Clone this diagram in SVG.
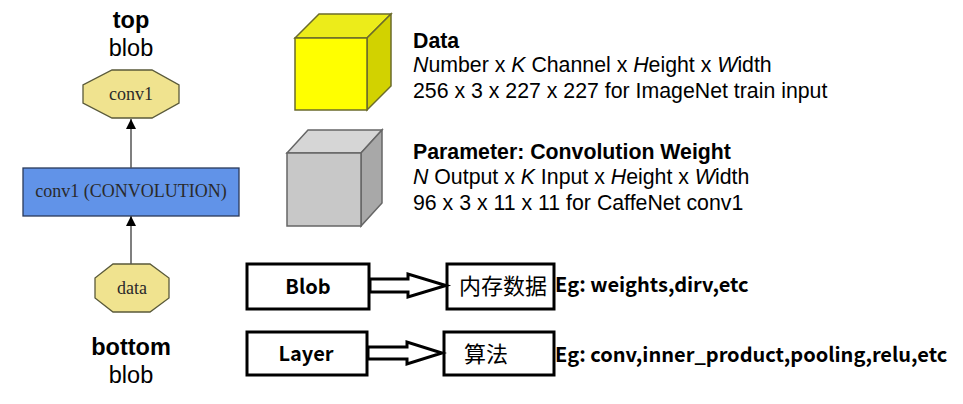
<svg xmlns="http://www.w3.org/2000/svg" width="963" height="404" viewBox="0 0 963 404">
<defs>
<marker id="ah" viewBox="0 0 10 10" refX="10" refY="5" markerWidth="10" markerHeight="14" markerUnits="userSpaceOnUse" orient="auto">
<path d="M0,0 L10,5 L0,10 Z" fill="#000"/>
</marker>
<style>
.lbl{font-family:"Liberation Sans",Arial,sans-serif;font-size:23.5px;fill:#000;text-anchor:middle}
.b{font-weight:bold}
.oct{fill:#f0e38f;stroke:#5a5a3a;stroke-width:1.3}
.ser{font-family:"Liberation Serif","Times New Roman",serif;font-size:18px;fill:#2a2a2a;text-anchor:middle}
.desc{font-family:"Liberation Sans",Arial,sans-serif;font-size:21.3px;fill:#000}
.box{fill:#fff;stroke:#000;stroke-width:3}
.yh{font-family:"Noto Sans CJK SC","Noto Sans",sans-serif;font-size:20px;font-weight:bold;fill:#000}
.cn{font-family:"Noto Sans CJK SC",sans-serif;font-size:22px;fill:#000}
.hollow{fill:#fff;stroke:#000;stroke-width:3;stroke-linejoin:miter}
.edge{stroke:#555;stroke-width:1.5;fill:none}
</style>
</defs>
<rect width="963" height="404" fill="#fff"/>

<g id="labels-left">
<text class="lbl b" x="131" y="28">top</text>
<text class="lbl" x="131" y="56">blob</text>
<text class="lbl b" x="131" y="355">bottom</text>
<text class="lbl" x="131" y="383">blob</text>
</g>

<g id="node-conv1">
<polygon class="oct" points="112,70 152,70 179,85 179,103 152,118 112,118 83,103 83,85"/>
<text class="ser" x="131" y="100">conv1</text>
</g>

<g id="node-convolution">
<rect x="23" y="168" width="216" height="48" fill="#6193e8" stroke="#2a3a5a" stroke-width="1.3"/>
<text class="ser" x="131" y="197">conv1 (CONVOLUTION)</text>
</g>

<g id="node-data">
<polygon class="oct" points="113,264 150,264 169,278 169,298 150,312 113,312 95,298 95,278"/>
<text class="ser" x="132" y="294">data</text>
</g>

<g id="cube-data">
<polygon points="295,38 319,14 391,14 367,38" fill="#ecec1a" stroke="#6b6b2b" stroke-width="1.5"/>
<polygon points="367,38 391,14 391,86 367,110" fill="#d2d200" stroke="#6b6b2b" stroke-width="1.5"/>
<rect x="295" y="38" width="72" height="72" fill="#ffff00" stroke="#6b6b2b" stroke-width="1.5"/>
</g>
<g id="text-data">
<text class="desc b" x="413" y="48">Data</text>
<text class="desc" x="413" y="72"><tspan font-style="italic">N</tspan>umber x <tspan font-style="italic">K</tspan> Channel x <tspan font-style="italic">H</tspan>eight x <tspan font-style="italic">W</tspan>idth</text>
<text class="desc" x="413" y="98">256 x 3 x 227 x 227 for ImageNet train input</text>
</g>

<g id="cube-param">
<polygon points="287,153 308,130 382,130 361,153" fill="#d6d6d6" stroke="#666" stroke-width="1.5"/>
<polygon points="361,153 382,130 382,203 361,226" fill="#a8a8a8" stroke="#666" stroke-width="1.5"/>
<rect x="287" y="153" width="74" height="73" fill="#c8c8c8" stroke="#666" stroke-width="1.5"/>
</g>
<g id="text-param">
<text class="desc b" x="413" y="159">Parameter: Convolution Weight</text>
<text class="desc" x="413" y="184"><tspan font-style="italic">N</tspan> Output x <tspan font-style="italic">K</tspan> Input x <tspan font-style="italic">H</tspan>eight x <tspan font-style="italic">W</tspan>idth</text>
<text class="desc" x="413" y="210">96 x 3 x 11 x 11 for CaffeNet conv1</text>
</g>

<g id="node-blob">
<rect class="box" x="247" y="264" width="122" height="45"/>
<text class="yh" x="308" y="294" text-anchor="middle" font-size="21">Blob</text>
</g>
<g id="node-memory">
<rect class="box" x="447" y="264" width="107" height="45"/>
<text class="cn" x="503" y="294" text-anchor="middle">内存数据</text>
</g>
<g id="node-layer">
<rect class="box" x="247" y="332" width="120" height="43"/>
<text class="yh" x="306" y="361" text-anchor="middle" font-size="21">Layer</text>
</g>
<g id="node-algo">
<rect class="box" x="444" y="332" width="110" height="43"/>
<text class="cn" x="486" y="362" text-anchor="middle" font-size="20">算法</text>
</g>
<g id="examples">
<text class="yh" x="555" y="292">Eg: weights,dirv,etc</text>
<text class="yh" x="555" y="362">Eg: conv,inner_product,pooling,relu,etc</text>
</g>

<g id="connectors">
<line class="edge" x1="131" y1="168" x2="131" y2="119" marker-end="url(#ah)"/>
<line class="edge" x1="131" y1="264" x2="131" y2="216" marker-end="url(#ah)"/>
<polygon class="hollow" points="370,279 408,279 408,274 446,285.5 408,297 408,292 370,292"/>
<polygon class="hollow" points="368,347 407,347 407,342 442,353 407,364 407,359 368,359"/>
</g>
</svg>
